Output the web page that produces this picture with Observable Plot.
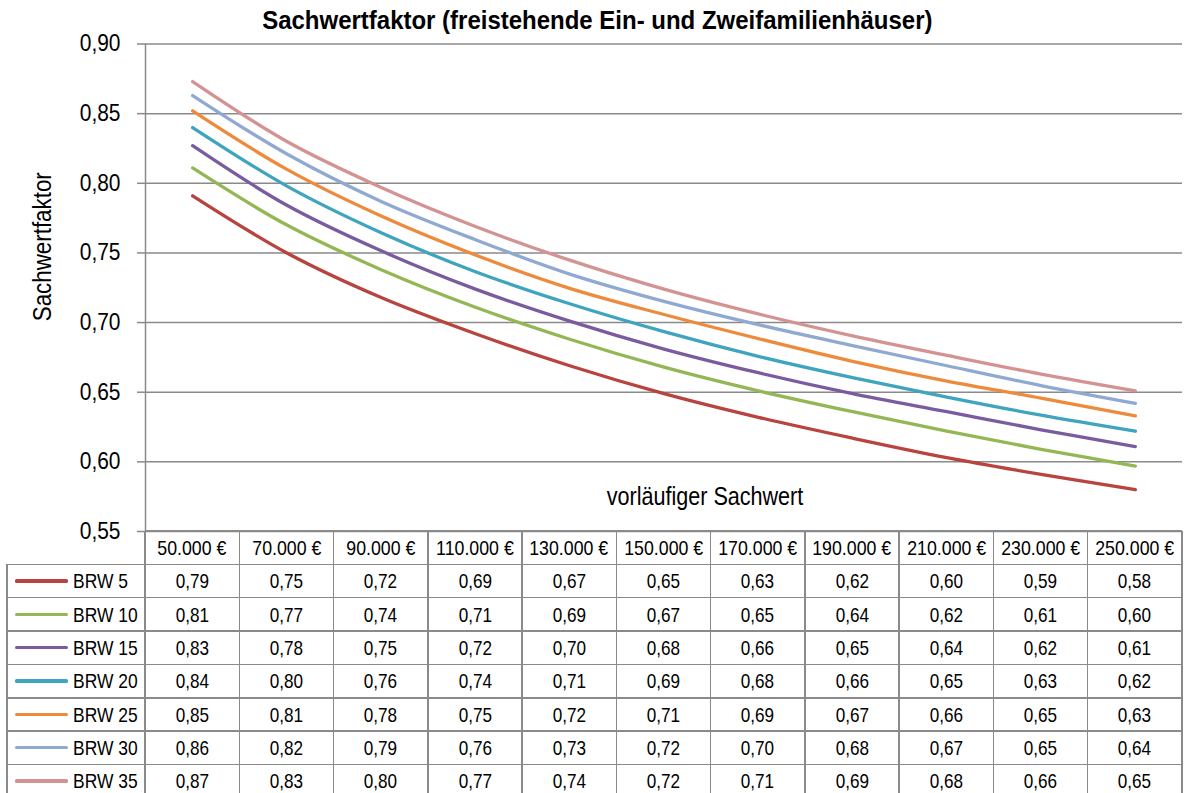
<!DOCTYPE html>
<html>
<head>
<meta charset="utf-8">
<script src="https://cdn.jsdelivr.net/npm/d3@7"></script>
<script src="https://cdn.jsdelivr.net/npm/@observablehq/plot@0.6"></script>
<style>
  html, body { margin: 0; padding: 0; background: #fff; }
  #root { position: relative; width: 1184px; height: 793px; overflow: hidden; background: #fff;
    font-family: "Liberation Sans", Arial, sans-serif; color: #000; }
  #root svg { position: absolute; left: 0; top: 0; }
  .title { position: absolute; left: 5px; width: 1184px; top: 5px; text-align: center;
    font-weight: bold; font-size: 26.5px; line-height: 30px; white-space: nowrap; }
  .hl { position: absolute; height: 1.5px; background: #8a8a8a; }
  .vl { position: absolute; width: 1.5px; background: #8a8a8a; }
  .cell { position: absolute; text-align: center; white-space: nowrap; }
  .lab { position: absolute; white-space: nowrap; font-size: 21px; }
  .sq { display: inline-block; }
  .swatch { position: absolute; height: 3.3px; border-radius: 1.6px; }
</style>
</head>
<body>
<div id="root"></div>
<script>
(function () {
// ---------- data ----------
const categories = [50000, 70000, 90000, 110000, 130000, 150000, 170000, 190000, 210000, 230000, 250000];
const categoryLabels = ["50.000 €", "70.000 €", "90.000 €", "110.000 €", "130.000 €", "150.000 €",
                        "170.000 €", "190.000 €", "210.000 €", "230.000 €", "250.000 €"];
const seriesNames = ["BRW 5", "BRW 10", "BRW 15", "BRW 20", "BRW 25", "BRW 30", "BRW 35"];
const seriesColors = ["#B8433F", "#93B755", "#7A5C9E", "#3FA4BE", "#EE8A3C", "#90A9D2", "#D39392"];
const brw5  = [0.791, 0.750, 0.718, 0.692, 0.669, 0.649, 0.632, 0.617, 0.603, 0.591, 0.580];
const brw10 = [0.811, 0.770, 0.738, 0.711, 0.688, 0.668, 0.651, 0.636, 0.622, 0.609, 0.597];
const brw15 = [0.827, 0.7842, 0.7515, 0.724, 0.701, 0.681, 0.664, 0.649, 0.636, 0.623, 0.611];
const brw20 = [0.840, 0.798, 0.7645, 0.7365, 0.7135, 0.6935, 0.6758, 0.6605, 0.6465, 0.6335, 0.622];
const brw25 = [0.852, 0.810, 0.7765, 0.7485, 0.7246, 0.7058, 0.6885, 0.6722, 0.658, 0.6458, 0.633];
const brw30 = [0.863, 0.821, 0.787, 0.7595, 0.7348, 0.7152, 0.6985, 0.6835, 0.669, 0.6548, 0.642];
const brw35 = [0.873, 0.830, 0.797, 0.769, 0.7448, 0.724, 0.7062, 0.6905, 0.6765, 0.663, 0.651];
const seriesValues = [brw5, brw10, brw15, brw20, brw25, brw30, brw35];
const yTicks = [0.55, 0.60, 0.65, 0.70, 0.75, 0.80, 0.85, 0.90];
const titleText = "Sachwertfaktor (freistehende Ein- und Zweifamilienhäuser)";
const yTitle = "Sachwertfaktor";
const xTitle = "vorläufiger Sachwert";

// ---------- layout ----------
const W = 1184, H = 793;
const pLeft = 145, pRight = 1182, pTop = 43.5, pBottom = 531;
const FONT = '"Liberation Sans", Arial, sans-serif';
const GRID = "#8a8a8a";
const fmt = v => d3.format(".2f")(v).replace(".", ",");

const data = seriesNames.flatMap((s, i) => categories.map((c, j) => ({series: s, x: c, y: seriesValues[i][j]})));

const root = document.getElementById("root");

const chart = Plot.plot({
  width: W, height: H,
  marginLeft: pLeft, marginRight: W - pRight, marginTop: pTop, marginBottom: H - pBottom,
  x: {type: "linear", domain: [40000, 260000], axis: null},
  y: {domain: [0.55, 0.90], axis: null},
  color: {domain: seriesNames, range: seriesColors},
  style: {fontFamily: FONT, background: "transparent", overflow: "visible", color: "#000"},
  marks: [
    Plot.ruleY(yTicks, {stroke: GRID, strokeWidth: 1.5}),
    Plot.ruleX([40000], {stroke: GRID, strokeWidth: 1.5}),
    Plot.axisY(yTicks, {tickSize: 8, tickPadding: 17, tickFormat: fmt, fontSize: 23, stroke: GRID, strokeWidth: 1.5, fill: "#000", label: null}),
    Plot.line(data, {x: "x", y: "y", z: "series", stroke: "series", strokeWidth: 3.3, curve: "catmull-rom"}),
    Plot.text([xTitle], {frameAnchor: "bottom", dx: 41, dy: -27, fontSize: 26, fill: "#000", textAnchor: "middle"}),
    Plot.text([yTitle], {frameAnchor: "left", dx: -103, dy: -41, rotate: -90, fontSize: 26, fill: "#000", textAnchor: "middle"})
  ]
});
root.appendChild(chart);

// emulate a narrow typeface by horizontal compression of the SVG texts
chart.querySelectorAll("text").forEach(el => {
  const s = el.textContent;
  const k = s === yTitle ? 0.86 : s === xTitle ? 0.83 : 0.91;
  const tr = el.getAttribute("transform") || "";
  const x = el.getAttribute("x");
  if (x != null) el.setAttribute("x", (+x) / k);
  el.setAttribute("transform", tr + ` scale(${k},1)`);
});

function add(cls, css, text, k, origin) {
  const d = document.createElement("div");
  d.className = cls;
  Object.assign(d.style, css);
  if (text != null) {
    const sp = document.createElement("span");
    sp.className = "sq";
    sp.textContent = text;
    sp.style.transform = `scaleX(${k})`;
    sp.style.transformOrigin = origin || "center";
    d.appendChild(sp);
  }
  root.appendChild(d);
  return d;
}

// title
add("title", {}, titleText, 0.905, "center");

// ---------- data table ----------
const colW = (pRight - pLeft) / categories.length;
const rowH = 33.35;
const labLeft = 7;
for (let r = 0; r <= seriesNames.length + 1; r++) {
  const y = pBottom + r * rowH - 0.75;
  const x0 = r === 0 ? pLeft : labLeft;
  add("hl", {left: x0 + "px", top: y + "px", width: (pRight - x0) + "px"});
}
add("vl", {left: (labLeft - 0.75) + "px", top: (pBottom + rowH) + "px", height: (H - pBottom - rowH) + "px"});
for (let i = 0; i <= categories.length; i++) {
  add("vl", {left: (pLeft + i * colW - 0.75) + "px", top: pBottom + "px", height: (H - pBottom) + "px"});
}
categoryLabels.forEach((lab, i) => {
  add("cell", {left: (pLeft + i * colW) + "px", width: colW + "px", top: pBottom + "px",
               height: rowH + "px", lineHeight: rowH + "px", fontSize: "21px"}, lab, 0.845);
});
seriesNames.forEach((s, r) => {
  const y0 = pBottom + (r + 1) * rowH;
  add("swatch", {left: "15px", width: "53px", top: (y0 + rowH / 2 - 1.65) + "px", background: seriesColors[r]});
  add("lab", {left: "73px", top: y0 + "px", height: rowH + "px", lineHeight: rowH + "px"}, s, 0.83, "left center");
  seriesValues[r].forEach((v, i) => {
    add("cell", {left: (pLeft + i * colW) + "px", width: colW + "px", top: y0 + "px",
                 height: rowH + "px", lineHeight: rowH + "px", fontSize: "21px"}, fmt(v), 0.815);
  });
});
})();
</script>
</body>
</html>
